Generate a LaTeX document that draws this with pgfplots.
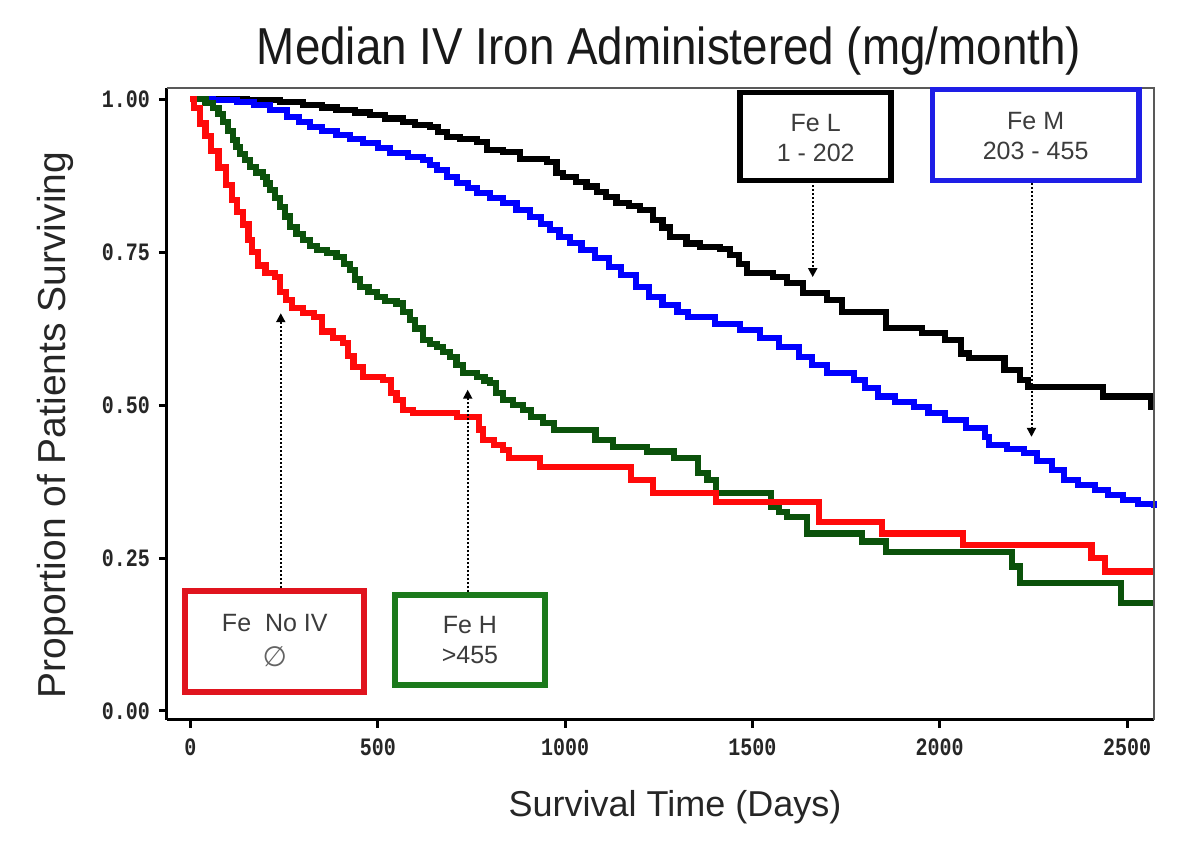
\documentclass[border=0pt]{standalone}
\usepackage{fontspec}
\setmainfont{Liberation Sans}
\newfontfamily\titlefont[FakeStretch=0.88]{Liberation Sans}
\newfontfamily\tickfont[FakeStretch=0.8]{Liberation Mono}
\newfontfamily\symfont{DejaVu Sans}
\usepackage{pgfplots}
\pgfplotsset{compat=1.18}
\usetikzlibrary{arrows.meta}
\definecolor{kmred}{HTML}{FF0A0A}
\definecolor{kmgreen}{HTML}{0B520B}
\definecolor{kmblue}{HTML}{0000FF}
\definecolor{boxred}{HTML}{E0141E}
\definecolor{boxgreen}{HTML}{1C7A1C}
\definecolor{boxblue}{HTML}{1E1EE6}
\definecolor{txtgray}{HTML}{3C3C3C}
\begin{document}
\begin{tikzpicture}
\useasboundingbox (-83.5pt,-68pt) rectangle (516.5pt,360pt);
\begin{axis}[
  scale only axis, width=493.5pt, height=316pt,
  xmin=-62.7, xmax=2572, ymin=-0.0147, ymax=1.018,
  axis x line*=bottom, axis y line*=left,
  axis line style={black, line width=1.5pt},
  tick align=outside, major tick length=4pt,
  tick style={black, line width=1.5pt},
  xtick={0,500,1000,1500,2000,2500},
  xticklabels={0,500,1000,1500,2000,2500},
  ytick={0,0.25,0.5,0.75,1},
  yticklabels={0.00,0.25,0.50,0.75,1.00},
  ticklabel style={font=\tickfont\bfseries\fontsize{12.5}{12.5}\selectfont, text=black!85},
  xticklabel style={yshift=-2pt},
  yticklabel style={xshift=-1pt},
  clip=false,
]
\addplot[const plot, line width=3.1pt, black] coordinates {
(0,1.0) (150,0.998) (239,0.995) (301,0.990) (350,0.986) (390,0.982) (440,0.978)
(479,0.974) (520,0.968) (568,0.962) (600,0.958) (639,0.954) (660,0.946) (684,0.938)
(720,0.934) (764,0.930) (791,0.917) (834,0.913) (879,0.902) (951,0.897) (977,0.879)
(994,0.873) (1030,0.865) (1057,0.857) (1085,0.848) (1110,0.840) (1137,0.830)
(1170,0.825) (1199,0.819) (1234,0.802) (1260,0.790) (1280,0.775) (1324,0.764)
(1360,0.758) (1413,0.755) (1440,0.745) (1465,0.730) (1485,0.716) (1555,0.709)
(1592,0.699) (1635,0.683) (1699,0.672) (1740,0.652) (1857,0.626) (1953,0.617)
(2015,0.606) (2057,0.584) (2078,0.577) (2173,0.557) (2214,0.541) (2236,0.530)
(2436,0.514) (2564,0.497) (2572,0.497)};
\addplot[const plot, line width=3.1pt, kmblue] coordinates {
(0,1.0) (60,0.998) (124,0.995) (170,0.99) (212,0.982) (257,0.971) (290,0.962)
(319,0.954) (350,0.948) (390,0.941) (425,0.935) (461,0.928) (500,0.92) (533,0.912)
(580,0.905) (621,0.900) (640,0.892) (657,0.884) (685,0.873) (711,0.863) (740,0.855)
(764,0.846) (800,0.838) (834,0.830) (870,0.818) (906,0.807) (935,0.796) (959,0.786)
(985,0.775) (1013,0.765) (1044,0.753) (1080,0.740) (1117,0.726) (1150,0.712)
(1190,0.693) (1224,0.677) (1260,0.664) (1300,0.652) (1329,0.644) (1400,0.633)
(1467,0.623) (1520,0.61) (1571,0.595) (1625,0.579) (1660,0.565) (1699,0.552)
(1771,0.541) (1800,0.528) (1835,0.514) (1880,0.505) (1931,0.497) (1970,0.487)
(2015,0.475) (2070,0.462) (2121,0.448) (2132,0.435) (2180,0.428) (2225,0.421)
(2260,0.408) (2299,0.394) (2331,0.377) (2370,0.369) (2414,0.361) (2450,0.353)
(2489,0.345) (2530,0.338) (2572,0.332)};
\addplot[const plot, line width=3.1pt, kmgreen] coordinates {
(0,1.0) (40,0.993) (60,0.985) (75,0.975) (87,0.962) (100,0.948) (114,0.933)
(123,0.922) (132,0.91) (145,0.9) (159,0.889) (175,0.88) (194,0.873) (203,0.862)
(212,0.851) (225,0.838) (239,0.824) (252,0.808) (266,0.791) (283,0.78) (301,0.770)
(320,0.76) (337,0.753) (365,0.748) (390,0.742) (410,0.73) (426,0.721) (440,0.705)
(452,0.693) (475,0.685) (497,0.677) (520,0.670) (550,0.666) (568,0.652) (586,0.639)
(600,0.625) (621,0.606) (640,0.600) (657,0.595) (675,0.586) (692,0.578) (710,0.565)
(728,0.552) (764,0.546) (785,0.54) (800,0.536) (815,0.52) (834,0.508) (860,0.50)
(888,0.492) (910,0.48) (941,0.470) (970,0.459) (1081,0.443) (1128,0.432)
(1219,0.424) (1291,0.413) (1355,0.389) (1380,0.377) (1403,0.356) (1549,0.334)
(1570,0.325) (1592,0.317) (1646,0.290) (1793,0.277) (1857,0.260) (2193,0.236)
(2214,0.209) (2484,0.176) (2572,0.176)};
\addplot[const plot, line width=3.1pt, kmred] coordinates {
(0,1.0) (10,0.985) (25,0.96) (40,0.94) (55,0.915) (75,0.888) (95,0.86) (110,0.835)
(125,0.815) (140,0.795) (155,0.77) (165,0.75) (180,0.728) (200,0.716) (225,0.709)
(240,0.685) (255,0.672) (270,0.658) (300,0.650) (330,0.644) (350,0.62) (380,0.610)
(408,0.601) (420,0.58) (435,0.562) (461,0.546) (514,0.541) (535,0.52) (550,0.508)
(568,0.492) (594,0.487) (711,0.48) (770,0.46) (781,0.443) (810,0.435) (834,0.427)
(850,0.413) (933,0.399) (1176,0.377) (1234,0.356) (1403,0.342) (1677,0.309)
(1846,0.290) (2062,0.271) (2405,0.250) (2441,0.228) (2572,0.228)};
% top and right frame lines
\draw[black!65, line width=1.2pt] (rel axis cs:0,1) -- (rel axis cs:1,1) -- (rel axis cs:1,0);
% annotation arrows
\draw[densely dotted, line width=1pt, -{Triangle[width=4.5pt,length=4.5pt]}] (axis cs:1661,0.859) -- (axis cs:1661,0.709);
\draw[densely dotted, line width=1pt, -{Triangle[width=4.5pt,length=4.5pt]}] (axis cs:2245,0.863) -- (axis cs:2245,0.448);
\draw[densely dotted, line width=1pt, -{Triangle[width=4.5pt,length=4.5pt]}] (axis cs:241,0.201) -- (axis cs:241,0.650);
\draw[densely dotted, line width=1pt, -{Triangle[width=4.5pt,length=4.5pt]}] (axis cs:740,0.194) -- (axis cs:740,0.525);
% boxes
\draw[black, line width=2.6pt, fill=white] (axis cs:1467,1.0106) rectangle (axis cs:1870,0.8668);
\node[align=center, text=txtgray, font=\fontsize{12.5}{15}\selectfont] at (axis cs:1669,0.936) {Fe L\\1 - 202};
\draw[boxblue, line width=2.6pt, fill=white] (axis cs:1980,1.0155) rectangle (axis cs:2532,0.8668);
\node[align=center, text=txtgray, font=\fontsize{12.5}{15}\selectfont] at (axis cs:2256,0.9395) {Fe M\\203 - 455};
\draw[boxred, line width=2.8pt, fill=white] (axis cs:-15,0.196) rectangle (axis cs:463,0.031);
\node[text=txtgray, font=\fontsize{12.5}{15}\selectfont, inner sep=0pt] at (axis cs:225,0.144) {Fe\ \ No IV};
\node[text=txtgray!80, font=\symfont\fontsize{14}{14}\selectfont, inner sep=0pt] at (axis cs:225,0.088) {∅};
\draw[boxgreen, line width=2.8pt, fill=white] (axis cs:546,0.1895) rectangle (axis cs:946,0.0425);
\node[align=center, text=txtgray, font=\fontsize{12.5}{15}\selectfont] at (axis cs:746,0.116) {Fe H\\>455};
\end{axis}
\node[font=\titlefont\fontsize{26}{30}\selectfont, text=black!90] at (251pt,334.5pt) {Median IV Iron Administered (mg/month)};
\node[font=\fontsize{18}{22}\selectfont, text=black!85] at (254pt,-43.5pt) {Survival Time (Days)};
\node[font=\fontsize{19.5}{22}\selectfont, text=black!85, rotate=90] at (-56pt,147.5pt) {Proportion of Patients Surviving};
\end{tikzpicture}
\end{document}
